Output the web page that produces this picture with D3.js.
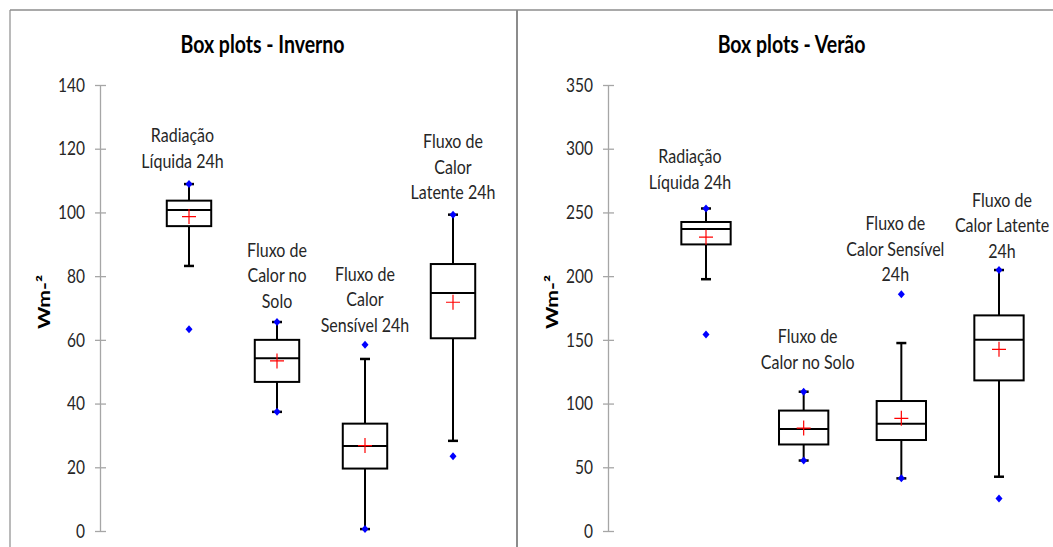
<!DOCTYPE html>
<html>
<head>
<meta charset="utf-8">
<script src="https://cdn.jsdelivr.net/npm/d3@7"></script>
<style>
  body { margin: 0; background: #fff; }
  svg { display: block; }
  text { font-family: Lato, "Open Sans", sans-serif; }
</style>
</head>
<body>
<svg id="chart" width="1053" height="547"></svg>
<script>
// categories (line breaks as in the original labels)
const categoriesInverno = [
  ["Radiação", "Líquida 24h"],
  ["Fluxo de", "Calor no", "Solo"],
  ["Fluxo de", "Calor", "Sensível 24h"],
  ["Fluxo de", "Calor", "Latente 24h"]
];
const categoriesVerao = [
  ["Radiação", "Líquida 24h"],
  ["Fluxo de", "Calor no Solo"],
  ["Fluxo de", "Calor Sensível", "24h"],
  ["Fluxo de", "Calor Latente", "24h"]
];

// Inverno stats (W m-2)
const minInverno         = [63.3, 37.4, 0.6, 23.5];
const whiskerLowInverno  = [83.2, 37.4, 0.6, 28.3];
const q1Inverno          = [95.7, 46.8, 19.6, 60.5];
const medianInverno      = [100.8, 54.2, 26.7, 74.7];
const meanInverno        = [98.7, 53.4, 26.8, 71.8];
const q3Inverno          = [103.7, 60.0, 33.7, 83.8];
const whiskerHighInverno = [108.9, 65.6, 54.0, 99.3];
const maxInverno         = [108.9, 65.6, 58.5, 99.3];

// Verao stats (W m-2)
const minVerao         = [154.2, 55.3, 41.3, 25.6];
const whiskerLowVerao  = [197.6, 55.3, 41.3, 42.6];
const q1Verao          = [224.9, 67.9, 71.4, 118.2];
const medianVerao      = [236.9, 80.0, 84.2, 150.1];
const meanVerao        = [230.6, 80.8, 88.4, 142.6];
const q3Verao          = [242.5, 94.5, 102.0, 169.2];
const whiskerHighVerao = [253.1, 109.3, 147.5, 204.8];
const maxVerao         = [253.1, 109.3, 185.7, 204.8];

const ticksInverno = [0, 20, 40, 60, 80, 100, 120, 140];
const ticksVerao = [0, 50, 100, 150, 200, 250, 300, 350];

// label placement tweaks: [dx, gap above max point]
const labelNudgeInverno = [[-6.5, 24], [0, 22], [0, 20.5], [0, 23]];
const labelNudgeVerao = [[-16, 27.5], [4, 30.5], [-6, 21], [3, 20]];

const stretch = 1.25;   // text in the original is a bit tall
const svg = d3.select("#chart");

// frame lines
svg.append("line").attr("x1", 10).attr("x2", 10).attr("y1", 10).attr("y2", 547)
  .attr("stroke", "#8c8c8c").attr("stroke-width", 1.2);
svg.append("line").attr("x1", 10).attr("x2", 1053).attr("y1", 10).attr("y2", 10)
  .attr("stroke", "#8c8c8c").attr("stroke-width", 1.5);
svg.append("line").attr("x1", 517).attr("x2", 517).attr("y1", 10).attr("y2", 547)
  .attr("stroke", "#8c8c8c").attr("stroke-width", 2);

function stretchedText(g, x, y, str) {
  return g.append("text")
    .attr("transform", `translate(${x},${y}) scale(1,${stretch})`)
    .attr("dominant-baseline", "central")
    .attr("text-anchor", "middle")
    .text(str);
}

function drawPanel(p) {
  let g = svg.append("g");

  let x = d3.scalePoint().domain(d3.range(p.categories.length)).range(p.xRange);
  let y = d3.scaleLinear().domain([0, p.ticks[p.ticks.length - 1]]).range([531, 85]);
  let half = x.step() * 0.2525;

  // title
  stretchedText(g, p.titleX, 44, p.title)
    .attr("font-size", 19.5).attr("font-weight", "bold").attr("fill", "#000");

  // y label
  g.append("text")
    .attr("transform", `translate(${p.yLabelX},302) scale(1,${stretch}) rotate(-90)`)
    .attr("text-anchor", "middle")
    .attr("dominant-baseline", "central")
    .attr("font-size", 17).attr("font-weight", "bold").attr("fill", "#000")
    .text("Wm-²");

  // axis
  let gY = g.append("g").attr("transform", `translate(${p.axisX},0)`)
    .call(d3.axisLeft(y).tickValues(p.ticks).tickSize(0).tickSizeOuter(0).tickPadding(15));
  gY.select(".domain").attr("stroke", "#a6a6a6").attr("stroke-width", 1.3);
  gY.selectAll(".tick line").attr("x1", -5).attr("x2", 6)
    .attr("stroke", "#a6a6a6").attr("stroke-width", 1.3);
  gY.selectAll(".tick text")
    .attr("font-family", "Lato, sans-serif")
    .attr("font-size", 15.5).attr("fill", "#262626")
    .attr("transform", `scale(1,${stretch})`);

  let idx = d3.range(p.categories.length);

  // whiskers
  g.selectAll(".wlo").data(idx).join("line")
    .attr("x1", i => x(i)).attr("x2", i => x(i))
    .attr("y1", i => y(p.whiskerLow[i])).attr("y2", i => y(p.q1[i]))
    .attr("stroke", "#000").attr("stroke-width", 2);
  g.selectAll(".whi").data(idx).join("line")
    .attr("x1", i => x(i)).attr("x2", i => x(i))
    .attr("y1", i => y(p.whiskerHigh[i])).attr("y2", i => y(p.q3[i]))
    .attr("stroke", "#000").attr("stroke-width", 2);
  [p.whiskerLow, p.whiskerHigh].forEach(arr => {
    g.selectAll(null).data(idx).join("line")
      .attr("x1", i => x(i) - 5).attr("x2", i => x(i) + 5)
      .attr("y1", i => y(arr[i])).attr("y2", i => y(arr[i]))
      .attr("stroke", "#000").attr("stroke-width", 2.5);
  });

  // boxes
  g.selectAll(null).data(idx).join("rect")
    .attr("x", i => x(i) - half).attr("width", half * 2)
    .attr("y", i => y(p.q3[i])).attr("height", i => y(p.q1[i]) - y(p.q3[i]))
    .attr("fill", "#fff").attr("stroke", "#000").attr("stroke-width", 2);
  g.selectAll(null).data(idx).join("line")
    .attr("x1", i => x(i) - half).attr("x2", i => x(i) + half)
    .attr("y1", i => y(p.median[i])).attr("y2", i => y(p.median[i]))
    .attr("stroke", "#000").attr("stroke-width", 2);

  // mean cross
  g.selectAll(null).data(idx).join("path")
    .attr("d", i => `M${x(i) - 7},${y(p.mean[i])}h14M${x(i)},${y(p.mean[i]) - 7.5}v15`)
    .attr("stroke", "#ff0000").attr("stroke-width", 1.2).attr("fill", "none");

  // min / max points
  [p.min, p.max].forEach(arr => {
    g.selectAll(null).data(idx).join("path")
      .attr("d", "M0,-4L3.5,0L0,4L-3.5,0Z")
      .attr("transform", i => `translate(${x(i)},${y(arr[i])})`)
      .attr("fill", "#0000ff");
  });

  // category labels above each box
  idx.forEach(i => {
    let lines = p.categories[i];
    let bottom = y(p.max[i]) - p.nudge[i][1];
    lines.forEach((ln, k) => {
      stretchedText(g, x(i) + p.nudge[i][0], bottom - (lines.length - 1 - k) * 25.5, ln)
        .attr("font-size", 16).attr("fill", "#262626");
    });
  });
}

drawPanel({
  title: "Box plots - Inverno", titleX: 262.5, yLabelX: 43, axisX: 100,
  xRange: [189, 453], ticks: ticksInverno, categories: categoriesInverno,
  min: minInverno, whiskerLow: whiskerLowInverno, q1: q1Inverno, median: medianInverno,
  mean: meanInverno, q3: q3Inverno, whiskerHigh: whiskerHighInverno, max: maxInverno,
  nudge: labelNudgeInverno
});
drawPanel({
  title: "Box plots - Verão", titleX: 791.5, yLabelX: 551, axisX: 608,
  xRange: [706, 999], ticks: ticksVerao, categories: categoriesVerao,
  min: minVerao, whiskerLow: whiskerLowVerao, q1: q1Verao, median: medianVerao,
  mean: meanVerao, q3: q3Verao, whiskerHigh: whiskerHighVerao, max: maxVerao,
  nudge: labelNudgeVerao
});
</script>
</body>
</html>
